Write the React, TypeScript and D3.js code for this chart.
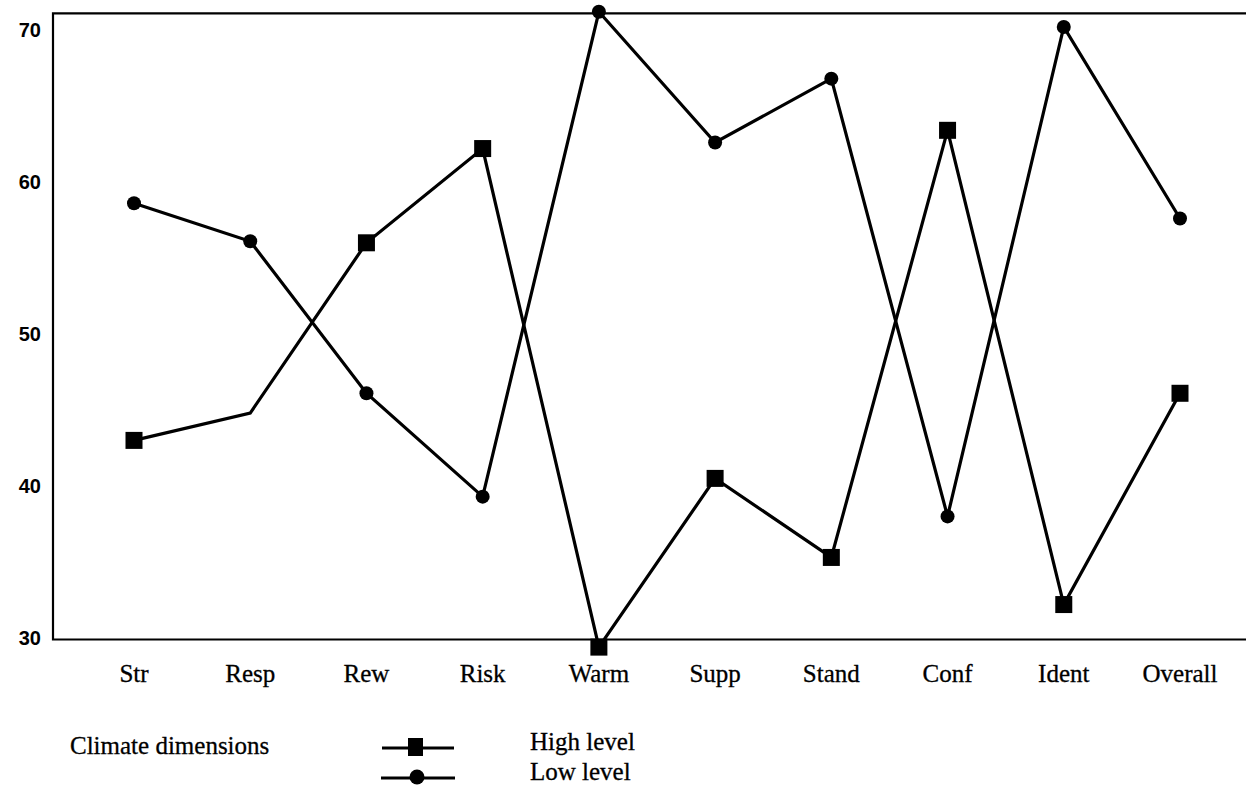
import React from "react";
import * as d3 from "d3";

const categories = ["Str", "Resp", "Rew", "Risk", "Warm", "Supp", "Stand", "Conf", "Ident", "Overall"];
const highLevel = [43.0, 44.8, 56.0, 62.2, 29.4, 40.5, 35.3, 63.4, 32.2, 46.1];
const lowLevel = [58.6, 56.1, 46.1, 39.3, 71.2, 62.6, 66.8, 38.0, 70.2, 57.6];
const highNoMarker = ["Resp"];
const yTicks = [30, 40, 50, 60, 70];
const xTitle = "Climate dimensions";
const seriesNames = ["High level", "Low level"];

const W = 1246;
const H = 786;

export default function App() {
  const x = d3.scalePoint<string>().domain(categories).range([134, 1180]);
  const y = d3.scaleLinear().domain([30, 70]).range([638, 30]);
  const frameLeft = 53;
  const frameTop = y(71.1);
  const frameBottom = y(29.9);

  const line = d3
    .line<number>()
    .x((_, i) => x(categories[i]) as number)
    .y((d) => y(d));

  const sans = "'Liberation Sans', Arial, sans-serif";
  const serif = "'Liberation Serif', 'Times New Roman', serif";

  return (
    <svg
      width={W}
      height={H}
      style={{ position: "absolute", left: 0, top: 0, background: "#fff" }}
    >
      <rect x={0} y={0} width={W} height={H} fill="#fff" />
      {/* frame */}
      <path
        d={`M${W},${frameTop}H${frameLeft}V${frameBottom}H${W}`}
        fill="none"
        stroke="#000"
        strokeWidth={2.2}
      />
      {/* y tick labels */}
      {yTicks.map((t) => (
        <text
          key={t}
          x={41}
          y={y(t)}
          dy="0.36em"
          textAnchor="end"
          fontFamily={sans}
          fontWeight="bold"
          fontSize={20}
          fill="#000"
        >
          {t}
        </text>
      ))}
      {/* x labels */}
      {categories.map((c) => (
        <text
          key={c}
          x={x(c) as number}
          y={682}
          textAnchor="middle"
          fontFamily={serif}
          fontSize={25}
          fill="#000"
          stroke="#000"
          strokeWidth={0.3}
        >
          {c}
        </text>
      ))}
      {/* lines */}
      <path d={line(highLevel) || ""} fill="none" stroke="#000" strokeWidth={3.2} strokeLinejoin="miter" />
      <path d={line(lowLevel) || ""} fill="none" stroke="#000" strokeWidth={3.2} strokeLinejoin="miter" />
      {/* markers */}
      {highLevel.map((v, i) =>
        highNoMarker.includes(categories[i]) ? null : (
          <rect
            key={"h" + i}
            x={(x(categories[i]) as number) - 8.5}
            y={y(v) - 8.5}
            width={17}
            height={17}
            fill="#000"
          />
        )
      )}
      {lowLevel.map((v, i) => (
        <circle key={"l" + i} cx={x(categories[i]) as number} cy={y(v)} r={7} fill="#000" />
      ))}
      {/* legend */}
      <text x={70} y={754} fontFamily={serif} fontSize={25} fill="#000" stroke="#000" strokeWidth={0.3}>
        {xTitle}
      </text>
      <line x1={382} x2={454} y1={748} y2={748} stroke="#000" strokeWidth={3.2} />
      <rect x={408} y={738} width={15} height={18} fill="#000" />
      <line x1={381} x2={455} y1={778} y2={778} stroke="#000" strokeWidth={3.2} />
      <circle cx={417} cy={777} r={7.5} fill="#000" />
      <text x={530} y={750} fontFamily={serif} fontSize={25} fill="#000" stroke="#000" strokeWidth={0.3}>
        {seriesNames[0]}
      </text>
      <text x={530} y={780} fontFamily={serif} fontSize={25} fill="#000" stroke="#000" strokeWidth={0.3}>
        {seriesNames[1]}
      </text>
    </svg>
  );
}
